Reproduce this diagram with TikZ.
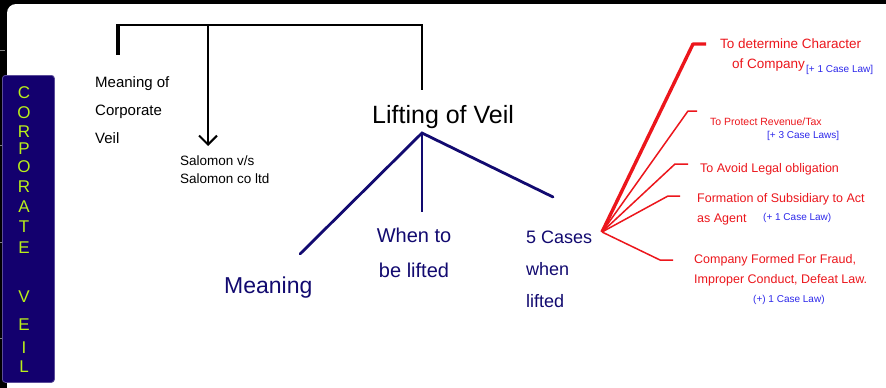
\documentclass[tikz,border=0pt]{standalone}
\usepackage{fontspec}
\setmainfont{Liberation Sans}
\usetikzlibrary{arrows.meta}
\definecolor{ink}{RGB}{18,10,112}
\definecolor{boxblue}{RGB}{19,0,110}
\definecolor{lime}{RGB}{185,240,25}
\definecolor{penred}{RGB}{236,22,28}
\definecolor{penblue}{RGB}{45,40,235}
\begin{document}
\begin{tikzpicture}[x=1pt,y=-1pt,
  txt/.style={inner sep=0pt, anchor=base west, align=left},
  blacktxt/.style={txt, text=black},
  navytxt/.style={txt, text=ink},
  redtxt/.style={txt, text=penred, font=\fontsize{12.5}{19.5}\selectfont},
  note/.style={txt, text=penblue, font=\fontsize{10}{11}\selectfont},
  letter/.style={text=lime, inner sep=0pt, font=\fontsize{17}{17}\selectfont},
  bracket/.style={black, line width=2.5pt},
  branch/.style={ink, line width=2.8pt},
  redline/.style={penred, line width=1.5pt, line join=round},
]
\useasboundingbox (0,0) rectangle (886,388);
\clip (0,0) rectangle (886,388);
\fill[black] (0,0) rectangle (886,388);
\fill[white, rounded corners=9pt] (7,4) rectangle (910,410);
\foreach \t in {50,145,242,338} \draw[gray, line width=1pt] (0,\t) -- (5,\t);

% side panel
\node[fill=boxblue, draw=boxblue!70!white, line width=0.8pt, rounded corners=3pt,
      minimum width=52pt, minimum height=307pt, anchor=north west, inner sep=0pt] (vbox) at (2,75) {};
\foreach \l/\yy [count=\i] in {C/93,O/113,R/132,P/149,O/167,R/187,A/207,T/227,E/248,V/297,E/325,I/348,L/367}
  \node[letter] (let\i) at (24,\yy) {\l};

% texts (base anchor = baseline of the last line)
\node[blacktxt, font=\fontsize{15}{28}\selectfont] (mcv) at (95,143) {Meaning of\\Corporate\\Veil};
\node[blacktxt, font=\fontsize{13.5}{18}\selectfont] (sal) at (180,183) {Salomon v/s\\Salomon co ltd};
\node[blacktxt, font=\fontsize{25}{25}\selectfont] (lv) at (372,123) {Lifting of Veil};
\node[navytxt, font=\fontsize{23}{23}\selectfont] (mean) at (224,293) {Meaning};
\node[navytxt, anchor=base, align=center, font=\fontsize{20}{35}\selectfont] (when) at (414,277) {When to\\be lifted};
\node[navytxt, font=\fontsize{18}{32}\selectfont] (cases) at (526,307) {5 Cases\\when\\lifted};

\node[redtxt, font=\fontsize{13.5}{20}\selectfont] (r1) at (720,68) {To determine Character\\\hspace*{12pt}of Company};
\node[note] (n1) at (806,72) {[+ 1 Case Law]};
\node[redtxt, font=\fontsize{10.5}{12}\selectfont] (r2) at (710,125) {To Protect Revenue/Tax};
\node[note] (n2) at (767,138) {[+ 3 Case Laws]};
\node[redtxt] (r3) at (700,172) {To Avoid Legal obligation};
\node[redtxt] (r4) at (697,222) {Formation of Subsidiary to Act\\as Agent};
\node[note] (n4) at (763,220) {(+ 1 Case Law)};
\node[redtxt] (r5) at (694,283) {Company Formed For Fraud,\\Improper Conduct, Defeat Law.};
\node[note] (n5) at (753,302) {(+) 1 Case Law)};

% top bracket
\coordinate (b0) at (118,25);
\coordinate (b1) at (208,25);
\coordinate (b2) at (422,25);
\coordinate (stub) at (118,55);
\coordinate (lvtop) at (422,90);
\coordinate (arrtip) at (208,146);
\draw[black, line width=4.5pt] (b0) -- (stub);
\draw[bracket] ([xshift=-2pt]b0) -- (b2) -- (lvtop);
\draw[black, line width=2pt, -{Straight Barb[length=9pt, width=18pt, line width=2pt]}] (b1) -- (arrtip);

% lifting branches
\coordinate (apex) at (422,133);
\coordinate (e1) at (300,254);
\coordinate (e2) at (422,212);
\coordinate (e3) at (553,197);
\draw[branch, line cap=round] (e1) -- (apex) -- (e3);
\draw[branch] (apex) -- (e2);

% red fan
\coordinate (rapex) at (602,232);
\coordinate (k1) at (693,44);  \coordinate (h1) at (706,44);
\coordinate (k2) at (688,111); \coordinate (h2) at (697,111);
\coordinate (k3) at (675,164); \coordinate (h3) at (688,164);
\coordinate (k4) at (668,196); \coordinate (h4) at (680,196);
\coordinate (k5) at (660,260); \coordinate (h5) at (673,260);
\draw[redline, line width=3.4pt] (rapex) -- (k1) -- (h1);
\draw[redline] (rapex) -- (k2) -- (h2);
\draw[redline] (rapex) -- (k3) -- (h3);
\draw[redline] (rapex) -- (k4) -- (h4);
\draw[redline] (rapex) -- (k5) -- (h5);
\end{tikzpicture}
\end{document}
